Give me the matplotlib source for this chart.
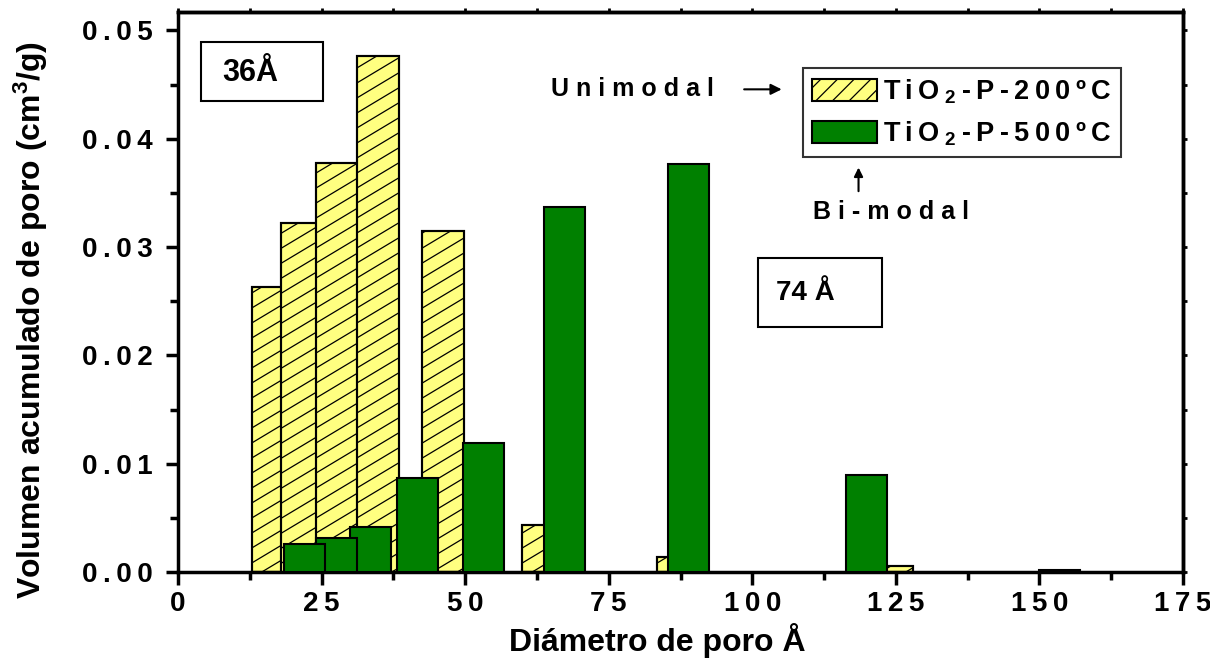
import matplotlib
matplotlib.use("Agg")
import matplotlib.pyplot as plt
from matplotlib.patches import Rectangle, Patch
import re

plt.rcParams['font.family'] = ['Liberation Sans', 'DejaVu Sans']
plt.rcParams['font.weight'] = 'bold'
plt.rcParams['mathtext.fontset'] = 'custom'
plt.rcParams['mathtext.rm'] = 'Liberation Sans:bold'
plt.rcParams['mathtext.it'] = 'Liberation Sans:bold'
plt.rcParams['mathtext.bf'] = 'Liberation Sans:bold'
plt.rcParams['hatch.linewidth'] = 0.9

# ---- data ----
y200_left = [12.8, 18.0, 24.0, 31.1, 42.5, 59.9, 83.4, 120.6]
y200_width = [7.3, 7.3, 7.3, 7.3, 7.3, 7.3, 7.3, 7.3]
vol_200 = [0.0263, 0.0322, 0.0378, 0.0476, 0.0315, 0.0043, 0.0014, 0.0006]

y500_left = [18.5, 24.0, 30.0, 38.1, 49.7, 63.7, 85.4, 116.3, 149.9]
y500_width = [7.1, 7.1, 7.1, 7.1, 7.1, 7.1, 7.1, 7.1, 7.1]
vol_500 = [0.0026, 0.0031, 0.0042, 0.0087, 0.0119, 0.0337, 0.0377, 0.0090, 0.0002]

xticks = [0, 25, 50, 75, 100, 125, 150, 175]
yticks = [0.00, 0.01, 0.02, 0.03, 0.04, 0.05]

label_200 = "TiO$_2$-P-200ºC"
label_500 = "TiO$_2$-P-500ºC"

THIN = '\u2009'


def spaced(s, sep=THIN):
    # insert spacing between characters outside of math segments
    parts = re.split(r'(\$[^$]*\$)', s)
    out = []
    for p in parts:
        if not p:
            continue
        if p.startswith('$'):
            out.append(p)
        else:
            out.append(sep.join(p))
    return sep.join(out)


W, H = 1210, 662
AX_L, AX_R, AX_T, AX_B = 178, 1183, 12, 572
XMAX, YMAX = 175, 0.0517

fig = plt.figure(figsize=(W / 100, H / 100), dpi=100)
ax = fig.add_axes([AX_L / W, 1 - AX_B / H, (AX_R - AX_L) / W, (AX_B - AX_T) / H])

YEL = '#FFFF80'
GRN = '#008000'

sx = (AX_R - AX_L) / XMAX   # px per x unit
sy = (AX_B - AX_T) / YMAX   # px per y unit
slope = 0.6
spacing = 15.0

for i, (l, w, v) in enumerate(zip(y200_left, y200_width, vol_200)):
    z = 2 + i * 0.01
    bc = ax.bar(l, v, width=w, align='edge', color=YEL, edgecolor='black',
                linewidth=1.5, zorder=z)
    rect = bc.patches[0]
    # custom shallow hatch lines, clipped to the bar
    x0p, x1p = l * sx, (l + w) * sx
    y1p = v * sy
    c = -slope * (x1p - x0p) + 4
    while c < y1p:
        ya, yb = c, c + slope * (x1p - x0p)
        ln, = ax.plot([x0p / sx, x1p / sx], [ya / sy, yb / sy], color='black',
                      lw=0.9, zorder=z + 0.005, solid_capstyle='butt')
        ln.set_clip_path(rect)
        c += spacing
    ax.add_patch(Rectangle((l, 0), w, v, fill=False, edgecolor='black',
                           linewidth=1.5, zorder=z + 0.006))

for i, (l, w, v) in enumerate(zip(y500_left, y500_width, vol_500)):
    ax.bar(l, v, width=w, align='edge', color=GRN, edgecolor='black',
           linewidth=1.5, zorder=4 - i * 0.01)

ax.set_xlim(0, XMAX)
ax.set_ylim(0, YMAX)
ax.set_xticks(xticks)
ax.set_xticklabels([spaced(str(t)) for t in xticks])
ax.set_xticks([t + 12.5 for t in xticks[:-1]], minor=True)
ax.set_yticks(yticks)
ax.set_yticklabels([spaced(f"{t:.2f}") for t in yticks])
ax.set_yticks([0.005, 0.015, 0.025, 0.035, 0.045], minor=True)
ax.tick_params(which='both', direction='out', width=2.5, labelsize=20)
ax.tick_params(which='major', length=9)
ax.tick_params(which='minor', length=6)
ax.tick_params(axis='y', pad=9)
ax.tick_params(axis='x', pad=5)
for t in ax.get_xticklabels() + ax.get_yticklabels():
    t.set_fontweight('bold')
for s in ax.spines.values():
    s.set_linewidth(2.5)

top = ax.secondary_xaxis('top')
top.set_xticks(xticks)
top.set_xticks([t + 12.5 for t in xticks[:-1]], minor=True)
top.set_xticklabels([])
top.tick_params(which='both', direction='out', length=3, width=2)
top.spines['top'].set_linewidth(2.5)
right = ax.secondary_yaxis('right')
right.set_yticks(yticks)
right.set_yticks([0.005, 0.015, 0.025, 0.035, 0.045], minor=True)
right.set_yticklabels([])
right.tick_params(which='both', direction='out', length=3, width=2)
right.spines['right'].set_linewidth(2.5)

ax.set_xlabel("Diámetro de poro Å", fontsize=23, fontweight='bold')
ax.xaxis.label.set_va('baseline')
ax.xaxis.set_label_coords((657 - AX_L) / (AX_R - AX_L),
                          (AX_B - 651) / (AX_B - AX_T))
ax.set_ylabel("Volumen acumulado de poro (cm$^3$/g)", fontsize=23,
              fontweight='bold')
ax.yaxis.set_label_coords((50 - AX_L) / (AX_R - AX_L), (AX_B - 320) / (AX_B - AX_T))

# legend
h1 = Patch(facecolor=YEL, edgecolor='black', hatch='//', linewidth=1.5)
h2 = Patch(facecolor=GRN, edgecolor='black', linewidth=1.5)
leg = ax.legend([h1, h2], [spaced(label_200), spaced(label_500)],
                loc='upper left',
                bbox_to_anchor=((803 - AX_L) / (AX_R - AX_L),
                                (AX_B - 68) / (AX_B - AX_T)),
                fontsize=19.5, frameon=True, fancybox=False, shadow=False,
                handlelength=2.4, handleheight=0.85, borderpad=0.35,
                labelspacing=0.5, handletextpad=0.2, borderaxespad=0)
leg.get_frame().set_edgecolor('black')
leg.get_frame().set_linewidth(1.5)
leg.set_zorder(10)
for t in leg.get_texts():
    t.set_fontweight('bold')

# annotation boxes
ax.add_patch(Rectangle((4.0, 0.04345), 21.2, 0.00545, fill=False,
                       edgecolor='black', linewidth=1.5, zorder=6))
ax.text(7.7, 0.0461, "36Å", fontsize=22, fontweight='bold', va='center', zorder=7)
ax.add_patch(Rectangle((101.0, 0.0226), 21.5, 0.00637, fill=False,
                       edgecolor='black', linewidth=1.5, zorder=6))
ax.text(104.2, 0.0258, "74 Å", fontsize=20, fontweight='bold', va='center', zorder=7)

ax.text(79.2, 0.04456, spaced("Unimodal", ' '), fontsize=18, fontweight='bold',
        ha='center', va='center')
ax.annotate("", xy=(105.6, 0.04456), xytext=(98.1, 0.04456),
            arrowprops=dict(arrowstyle='-|>', lw=1.5, color='black',
                            mutation_scale=16))
ax.text(124.2, 0.0332, spaced("Bi-modal", ' '), fontsize=18, fontweight='bold',
        ha='center', va='center')
ax.annotate("", xy=(118.5, 0.0376), xytext=(118.5, 0.0349),
            arrowprops=dict(arrowstyle='-|>', lw=1.5, color='black',
                            mutation_scale=13))

fig.savefig("out.png", dpi=100)
